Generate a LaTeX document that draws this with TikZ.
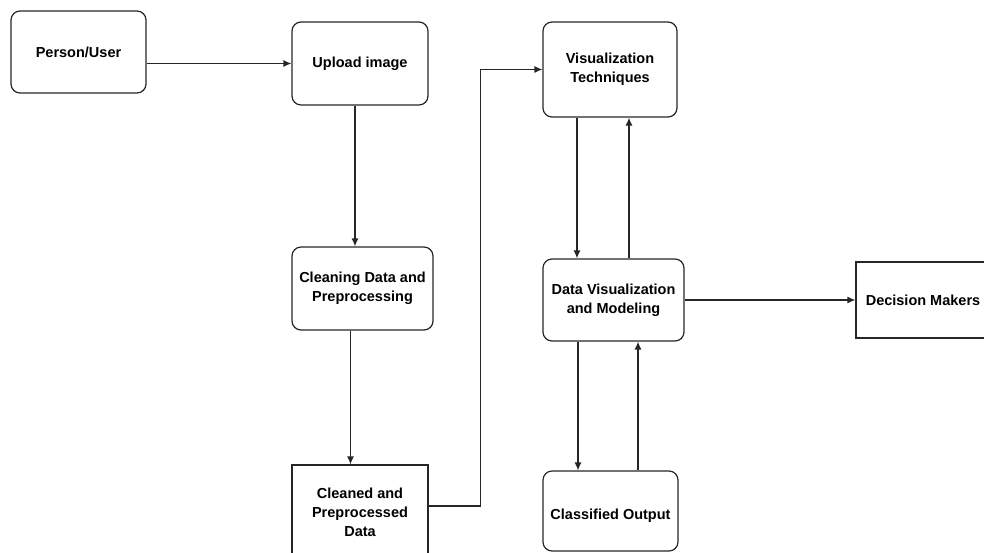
\documentclass[tikz,border=0pt]{standalone}
\usepackage{fontspec}
\setmainfont{Liberation Sans}
\usepackage{tikz}
\usetikzlibrary{positioning}
\usetikzlibrary{arrows.meta}
\tikzset{
  box/.style={draw=black!85,line width=1.2pt,align=center,inner sep=0pt,
    font=\bfseries\fontsize{14.5}{19}\selectfont},
  rbox/.style={box,rounded corners=9pt},
  arr/.style={draw=black!85,line width=1.2pt,-{Latex[length=8pt,width=7pt]}}
}

\begin{document}
\begin{tikzpicture}[x=1pt,y=-1pt]
  \useasboundingbox (0,0) rectangle (984,552);
  \node[rbox,minimum width=135pt,minimum height=82pt] (user) at (78.5,52) {Person/User};
  \node[rbox,minimum width=136pt,minimum height=83pt] (upload) at (360,63.5) {Upload image};
  \node[rbox,minimum width=141pt,minimum height=83pt] (clean) at (362.5,288.5) {Cleaning Data and\\Preprocessing};
  \node[box,minimum width=136pt,minimum height=95pt] (cleaned) at (360,512.5) {Cleaned and\\Preprocessed\\Data};
  \node[rbox,minimum width=134pt,minimum height=95pt] (vistech) at (610,69.5) {Visualization\\Techniques};
  \node[rbox,minimum width=141pt,minimum height=82pt] (dvm) at (613.5,300) {Data Visualization\\and Modeling};
  \node[rbox,minimum width=135pt,minimum height=80pt] (classout) at (610.5,511) {\raisebox{-8pt}[0pt][0pt]{Classified Output}};
  \node[box,minimum width=134pt,minimum height=76pt] (decide) at (923,300) {Decision Makers};
  % connectors
  \draw[arr] (user.east |- upload.west) -- (upload.west);
  \draw[arr] ([xshift=-5pt]upload.south) -- ([xshift=-5pt]upload.south |- clean.north);
  \draw[arr] ([xshift=-12pt]clean.south) -- ([xshift=-12pt]clean.south |- cleaned.north);
  \draw[arr] ([yshift=6.5pt]cleaned.east) -- ++(52,0) |- (vistech.west);
  \draw[arr] ([xshift=-33pt]vistech.south) -- ([xshift=-33pt]vistech.south |- dvm.north);
  \draw[arr] ([xshift=15.5pt]dvm.north) -- ([xshift=15.5pt]dvm.north |- vistech.south);
  \draw[arr] ([xshift=-35.5pt]dvm.south) -- ([xshift=-35.5pt]dvm.south |- classout.north);
  \draw[arr] ([xshift=27.5pt]classout.north) -- ([xshift=27.5pt]classout.north |- dvm.south);
  \draw[arr] (dvm.east) -- (decide.west);
\end{tikzpicture}
\end{document}
